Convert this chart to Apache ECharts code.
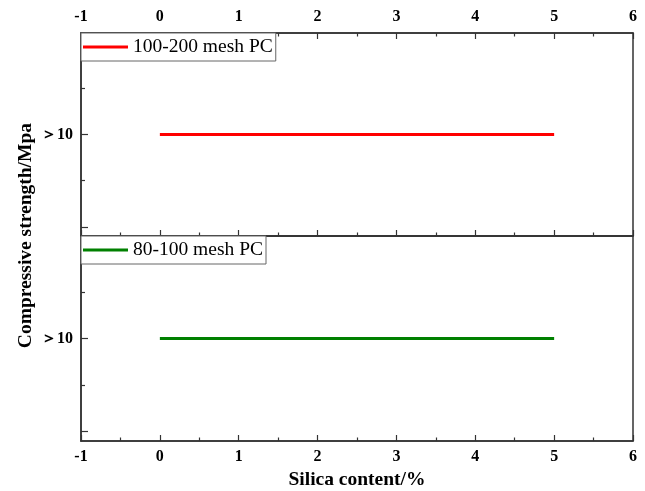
<!DOCTYPE html>
<html><head><meta charset="utf-8">
<script src="https://cdn.jsdelivr.net/npm/echarts@6/dist/echarts.min.js"></script>
<style>html,body{margin:0;padding:0;background:#fff}#c{width:645px;height:491px}</style>
</head><body><div id="c"></div>
<script>
var silica = [0, 1, 2, 3, 4, 5];
var strength200 = [10, 10, 10, 10, 10, 10];
var strength100 = [10, 10, 10, 10, 10, 10];
var seriesNames = ['100-200 mesh PC', '80-100 mesh PC'];
var xTicks = [-1, 0, 1, 2, 3, 4, 5, 6];
var yMajor = [9, 10];
var yMinor = [9.5, 10.5];
var yLabelValues = [10];
var yLabelText = '＞10';

var FONT = '"Liberation Serif","Times New Roman",serif';
var chart = echarts.init(document.getElementById('c'), null, {renderer: 'canvas'});

function pairs(xs, ys) { return xs.map(function (x, i) { return [x, ys[i]]; }); }

function xAx(grid, pos, labels) {
  return {
    type: 'value', gridIndex: grid, position: pos, min: xTicks[0], max: xTicks[xTicks.length - 1], interval: 1,
    axisLine: {show: true, onZero: false, lineStyle: {color: '#333', width: 1.5}},
    axisTick: {show: true, inside: true, length: 6, lineStyle: {color: '#333', width: 1.2}},
    minorTick: {show: true, splitNumber: 2, length: 3.5, lineStyle: {color: '#333', width: 1.2}},
    splitLine: {show: false},
    axisLabel: {show: labels, margin: 8, fontFamily: FONT, fontWeight: 'bold', fontSize: 16, color: '#000'}
  };
}
function yAx(grid, minor) {
  return {
    type: 'value', gridIndex: grid, position: 'left', offset: 0, min: 8.9, max: 11.1,
    axisLine: {show: !minor, onZero: false, lineStyle: {color: '#333', width: 1.5}},
    axisTick: {show: true, inside: true, length: minor ? 4 : 7, customValues: minor ? yMinor : yMajor,
      lineStyle: {color: '#333', width: 1.2}},
    splitLine: {show: false},
    axisLabel: {show: !minor, customValues: yLabelValues, margin: 8, fontFamily: FONT, fontWeight: 'bold', fontSize: 16, color: '#000',
      formatter: function () { return yLabelText; }}
  };
}

var xName = Object.assign(xAx(1, 'bottom', true), {
  name: 'Silica content/%', nameLocation: 'middle', nameGap: 29,
  nameTextStyle: {fontFamily: FONT, fontWeight: 'bold', fontSize: 19.5, color: '#000'}
});

chart.setOption({
  animation: false,
  backgroundColor: '#fff',
  grid: [
    {left: 81, right: 12, top: 33, height: 203, show: true, borderColor: '#333', borderWidth: 1.5, backgroundColor: 'transparent'},
    {left: 81, right: 12, top: 236, height: 205, show: true, borderColor: '#333', borderWidth: 1.5, backgroundColor: 'transparent'}
  ],
  xAxis: [xAx(0, 'top', true), xAx(0, 'bottom', false), xName],
  yAxis: [yAx(0, false), yAx(0, true), yAx(1, false), yAx(1, true)],
  legend: [
    {data: [seriesNames[0]], left: 81, top: 33, icon: 'rect', itemWidth: 45, itemHeight: 3,
      padding: [4, 3, 4, 2], backgroundColor: '#fff', borderColor: '#666', borderWidth: 1,
      textStyle: {fontFamily: FONT, fontSize: 19.5, color: '#000'}},
    {data: [seriesNames[1]], left: 81, top: 236, icon: 'rect', itemWidth: 45, itemHeight: 3,
      padding: [4, 3, 4, 2], backgroundColor: '#fff', borderColor: '#666', borderWidth: 1,
      textStyle: {fontFamily: FONT, fontSize: 19.5, color: '#000'}}
  ],
  graphic: [{
    type: 'text', left: 16, top: 123, rotation: Math.PI / 2, originX: 0, originY: 0,
    style: {text: 'Compressive strength/Mpa', font: 'bold 19.5px ' + FONT, fill: '#000'}
  }],
  series: [
    {name: seriesNames[0], type: 'line', xAxisIndex: 0, yAxisIndex: 0, data: pairs(silica, strength200),
      showSymbol: false, symbol: 'none', lineStyle: {color: '#ff0000', width: 3}, itemStyle: {color: '#ff0000'}},
    {name: seriesNames[1], type: 'line', xAxisIndex: 2, yAxisIndex: 2, data: pairs(silica, strength100),
      showSymbol: false, symbol: 'none', lineStyle: {color: '#008000', width: 3}, itemStyle: {color: '#008000'}}
  ]
});
</script></body></html>
